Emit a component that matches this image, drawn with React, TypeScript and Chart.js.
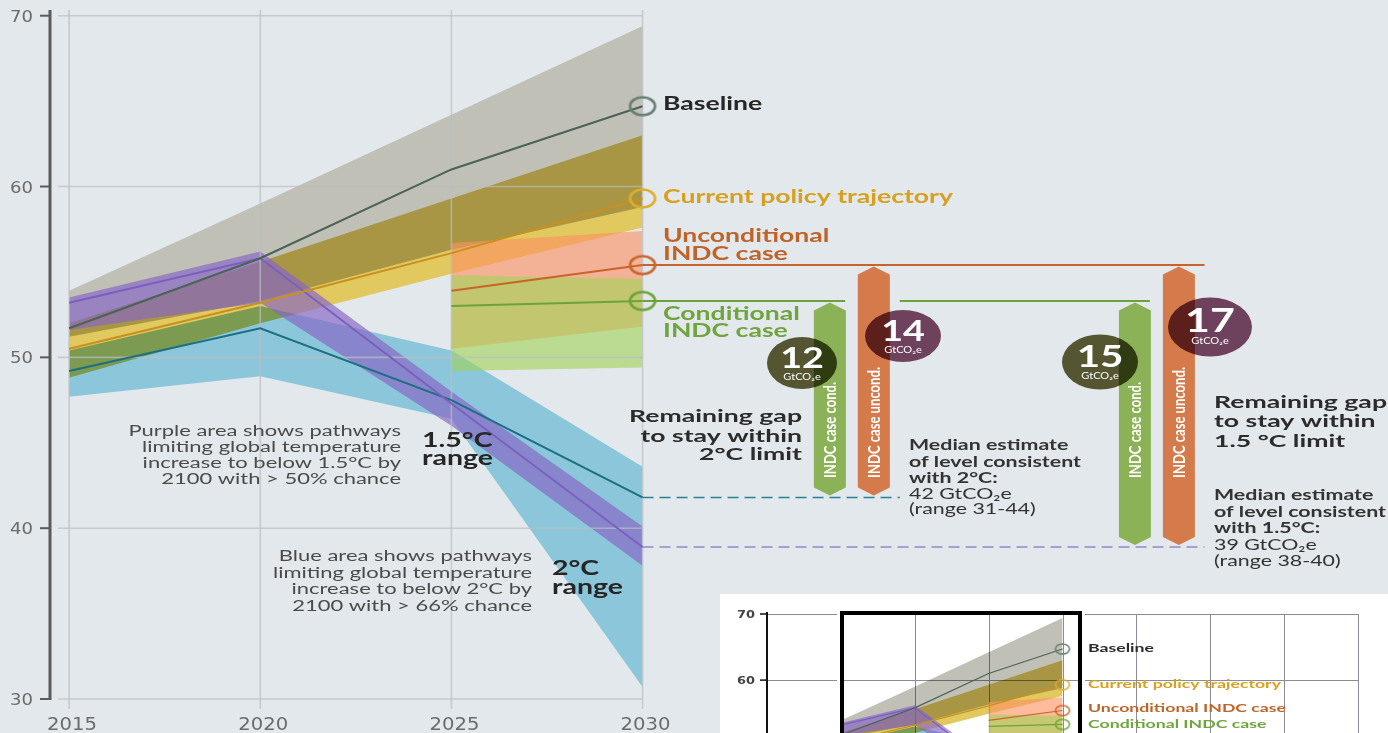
import React, { useEffect, useRef } from 'react';
import { Chart, registerables } from 'chart.js';

// Global plugin (registered first so it runs before the filler): per-dataset blend mode
const blendPlugin = {
  id: 'blendMode',
  beforeDatasetDraw(chart: any, args: any) {
    const ds: any = chart.data.datasets[args.index];
    chart.ctx.globalCompositeOperation = ds && ds.blend ? ds.blend : 'source-over';
  },
  afterDatasetDraw(chart: any) {
    chart.ctx.globalCompositeOperation = 'source-over';
  },
};
Chart.register(blendPlugin);
Chart.register(...registerables);

// ---------------- data ----------------
const years = [2015, 2020, 2025, 2030];
const indcYears = [2025, 2030];
const yTicks = [30, 40, 50, 60, 70];
const xTicks = [2015, 2020, 2025, 2030];
const miniYTicks = [60, 70];
const miniXGrid = [2015, 2020, 2025, 2030, 2035, 2040, 2045, 2050];

const baselineMedian = [51.7, 55.8, 61.0, 64.7];
const baselineLow = [51.2, 53.3, 56.3, 58.8];
const baselineHigh = [53.9, 59.0, 64.2, 69.4];

const currentPolicyMedian = [50.5, 53.2, 56.1, 59.3];
const currentPolicyLow = [48.8, 52.0, 54.9, 57.6];
const currentPolicyHigh = [52.0, 55.6, 59.3, 63.0];

const uncondMedian = [53.9, 55.4];
const uncondLow = [50.5, 51.8];
const uncondHigh = [56.7, 57.4];

const condMedian = [53.0, 53.3];
const condLow = [49.2, 49.4];
const condHigh = [54.8, 54.6];

const twoDegMedian = [49.2, 51.7, 47.5, 41.8];
const twoDegLow = [47.7, 48.9, 46.4, 30.7];
const twoDegHigh = [50.4, 53.0, 50.4, 43.6];

const onePointFiveMedian = [53.2, 55.8, 47.3, 38.9];
const onePointFiveLow = [51.6, 53.2, 46.0, 37.8];
const onePointFiveHigh = [53.5, 56.2, 48.0, 40.1];

const gapValues2C = [12, 14];
const gapValues15 = [15, 17];
const level2CText = '42';
const range2CText = '31-44';
const level15Text = '39';
const range15Text = '38-40';

// ---------------- layout (x extents in axis units) ----------------
const uncondExtYears = [2030, 2044.7];
const condExtYears = [2030, 2035.3, 2036.73, 2043.27];
const dash2CYears = [2030, 2036.73];
const dash15Years = [2030, 2044.7];
const gapBarYears2C = [2034.9, 2036.05];
const gapBarYears15 = [2042.88, 2044.03];

const C = {
  gray: 'rgb(192,192,182)',
  yellow: 'rgb(225,200,95)',
  blue: 'rgb(140,198,218)',
  salmon: 'rgba(253,145,97,0.62)',
  green: 'rgba(160,210,85,0.6)',
  purple: 'rgba(134,102,197,0.67)',
  baseline: '#4a6356',
  baselineMk: '#667d70',
  policy: '#c8901e',
  policyMk: '#dcae2c',
  uncond: '#c8642a',
  cond: '#6aa33a',
  teal: '#1a6f82',
  purpleLine: '#7a5fbf',
  purpleDash: '#9486cc',
  barGreen: 'rgb(140,178,88)',
  barOrange: 'rgb(212,122,75)',
  olive: 'rgb(85,85,50)',
  plum: 'rgb(110,65,92)',
};

const pts = (xs: number[], ys: (number | null)[]) => xs.map((x, i) => ({ x, y: ys[i] }));

function ellipseMarker(color: string, rx: number, ry: number, lw: number) {
  const c = document.createElement('canvas');
  c.width = Math.ceil(rx * 2 + lw + 2);
  c.height = Math.ceil(ry * 2 + lw + 2);
  const g = c.getContext('2d') as CanvasRenderingContext2D;
  g.strokeStyle = color;
  g.lineWidth = lw;
  g.beginPath();
  g.ellipse(c.width / 2, c.height / 2, rx, ry, 0, 0, Math.PI * 2);
  g.stroke();
  return c;
}

function buildDatasets(lw: number, mk: any, withExt: boolean) {
  const list: any[] = [];
  const band = (xs: number[], lo: number[], hi: number[], color: string, blend: string) => {
    list.push({ data: pts(xs, lo), borderColor: 'rgba(0,0,0,0)', borderWidth: 0, pointRadius: 0, fill: false });
    list.push({ data: pts(xs, hi), borderColor: 'rgba(0,0,0,0)', borderWidth: 0, pointRadius: 0, fill: '-1', backgroundColor: color, blend });
  };
  band(years, baselineLow, baselineHigh, C.gray, 'multiply');
  band(years, currentPolicyLow, currentPolicyHigh, C.yellow, 'multiply');
  band(years, twoDegLow, twoDegHigh, C.blue, 'multiply');
  band(indcYears, uncondLow, uncondHigh, C.salmon, 'source-over');
  band(indcYears, condLow, condHigh, C.green, 'source-over');
  band(years, onePointFiveLow, onePointFiveHigh, C.purple, 'source-over');
  const gridAfter = list.length - 1;

  const line = (xs: number[], ys: (number | null)[], color: string, width: number, marker?: any, dash?: number[]) => {
    list.push({
      data: pts(xs, ys),
      borderColor: color,
      borderWidth: width,
      fill: false,
      tension: 0,
      borderDash: dash || [],
      pointRadius: xs.map((_, i) => (marker && i === xs.length - 1 ? 10 : 0)),
      pointStyle: marker || 'circle',
    });
  };
  if (withExt) {
    const u = uncondMedian[uncondMedian.length - 1];
    const c = condMedian[condMedian.length - 1];
    const t = twoDegMedian[twoDegMedian.length - 1];
    const p = onePointFiveMedian[onePointFiveMedian.length - 1];
    line(dash2CYears, [t, t], '#2a7f93', 1.5, null, [11, 6]);
    line(dash15Years, [p, p], C.purpleDash, 1.5, null, [11, 6]);
    line(uncondExtYears, [u, u], C.uncond, 2);
    list.push({
      data: [
        { x: condExtYears[0], y: c },
        { x: condExtYears[1], y: c },
        { x: (condExtYears[1] + condExtYears[2]) / 2, y: null },
        { x: condExtYears[2], y: c },
        { x: condExtYears[3], y: c },
      ],
      borderColor: C.cond, borderWidth: 2, fill: false, pointRadius: 0, spanGaps: false,
    });
  }
  line(years, twoDegMedian, C.teal, lw);
  line(years, onePointFiveMedian, C.purpleLine, lw);
  line(years, baselineMedian, C.baseline, lw, mk.baseline);
  line(years, currentPolicyMedian, C.policy, lw, mk.policy);
  line(indcYears, uncondMedian, C.uncond, lw, mk.uncond);
  line(indcYears, condMedian, C.cond, lw, mk.cond);
  list.forEach((d, i) => (d.order = list.length - i));
  return { datasets: list, gridAfter };
}

function measureSx(ctx: any, font: string, ref: string, width: number) {
  ctx.save();
  ctx.font = font;
  const w = ctx.measureText(ref).width;
  ctx.restore();
  return width / w;
}
function txt(ctx: any, s: string, x: number, y: number, font: string, color: string, align: string, sx: number) {
  ctx.save();
  ctx.font = font;
  ctx.fillStyle = color;
  ctx.textAlign = align;
  ctx.textBaseline = 'alphabetic';
  ctx.translate(x, y);
  ctx.scale(sx, 1);
  ctx.fillText(s, 0, 0);
  ctx.restore();
}

const F_LABEL = 'bold 18px Lato';
const F_GAP = 'bold 17px Lato';
const F_NOTE_B = 'bold 16px Lato';
const F_NOTE = '16px Lato';
const F_RANGE = 'bold 20px Lato';
const F_EXPL = '14.5px Lato';
const F_YTICK = "15px 'DejaVu Sans'";
const F_XTICK = "17px 'DejaVu Sans'";

function mainDecor(gridAfter: number) {
  return {
    id: 'mainDecor',
    afterDatasetDraw(chart: any, args: any) {
      if (args.index !== gridAfter) return;
      const ctx = chart.ctx;
      const sx = chart.scales.x, sy = chart.scales.y;
      ctx.save();
      ctx.strokeStyle = 'rgba(186,189,194,0.7)';
      ctx.lineWidth = 1.6;
      const xEnd = sx.getPixelForValue(xTicks[xTicks.length - 1]);
      yTicks.forEach((v) => {
        const p = sy.getPixelForValue(v);
        ctx.beginPath(); ctx.moveTo(58, p); ctx.lineTo(xEnd, p); ctx.stroke();
      });
      xTicks.forEach((v) => {
        const p = sx.getPixelForValue(v);
        ctx.beginPath(); ctx.moveTo(p, 10); ctx.lineTo(p, 709); ctx.stroke();
      });
      ctx.restore();
    },
    afterDatasetsDraw(chart: any) {
      const ctx = chart.ctx;
      const sx = chart.scales.x, sy = chart.scales.y;
      // axis
      ctx.save();
      ctx.strokeStyle = '#5a5a5a';
      ctx.lineWidth = 3;
      ctx.beginPath(); ctx.moveTo(50, 10); ctx.lineTo(50, 700); ctx.stroke();
      ctx.lineWidth = 2;
      yTicks.forEach((v) => {
        const p = sy.getPixelForValue(v);
        ctx.beginPath(); ctx.moveTo(40, p); ctx.lineTo(50, p); ctx.stroke();
      });
      ctx.restore();
      const syT = measureSx(ctx, F_YTICK, '70', 23);
      yTicks.forEach((v) => txt(ctx, String(v), 33, sy.getPixelForValue(v) + 6, F_YTICK, '#6b6b6b', 'right', syT));
      const sxT = measureSx(ctx, F_XTICK, '2015', 50);
      xTicks.forEach((v) => txt(ctx, String(v), sx.getPixelForValue(v) + 3, 730, F_XTICK, '#6b6b6b', 'center', sxT));

      // gap bars
      const t2 = twoDegMedian[twoDegMedian.length - 1];
      const t15 = onePointFiveMedian[onePointFiveMedian.length - 1];
      const cTop = condMedian[condMedian.length - 1];
      const uTop = uncondMedian[uncondMedian.length - 1];
      const bars = [
        { yr: gapBarYears2C[0], from: t2, to: cTop, color: C.barGreen, label: 'INDC case cond.', len: 96 },
        { yr: gapBarYears2C[1], from: t2, to: uTop, color: C.barOrange, label: 'INDC case uncond.', len: 111 },
        { yr: gapBarYears15[0], from: t15, to: cTop, color: C.barGreen, label: 'INDC case cond.', len: 96 },
        { yr: gapBarYears15[1], from: t15, to: uTop, color: C.barOrange, label: 'INDC case uncond.', len: 111 },
      ];
      bars.forEach((b) => {
        const cx = sx.getPixelForValue(b.yr);
        const yTop = sy.getPixelForValue(b.to) + 1.5;
        const yBot = sy.getPixelForValue(b.from) - 2;
        const h = 16, tip = 8;
        ctx.save();
        ctx.fillStyle = b.color;
        ctx.beginPath();
        ctx.moveTo(cx, yTop); ctx.lineTo(cx + h, yTop + tip); ctx.lineTo(cx + h, yBot - tip);
        ctx.lineTo(cx, yBot); ctx.lineTo(cx - h, yBot - tip); ctx.lineTo(cx - h, yTop + tip);
        ctx.closePath(); ctx.fill();
        ctx.restore();
        // rotated label
        ctx.save();
        ctx.font = 'bold 12px Lato';
        const w = ctx.measureText(b.label).width;
        ctx.fillStyle = '#ffffff';
        ctx.textBaseline = 'middle';
        ctx.textAlign = 'left';
        ctx.translate(cx + 1, 478);
        ctx.rotate(-Math.PI / 2);
        ctx.scale(b.len / w, 1.35);
        ctx.fillText(b.label, 0, 0);
        ctx.restore();
      });

      // badges
      const badges = [
        { x: 802, y: 363, rx: 35, ry: 26, color: C.olive, v: gapValues2C[0] },
        { x: 903, y: 336, rx: 38, ry: 26, color: C.plum, v: gapValues2C[1] },
        { x: 1100, y: 362, rx: 38, ry: 27.5, color: C.olive, v: gapValues15[0] },
        { x: 1210, y: 327, rx: 42, ry: 29.5, color: C.plum, v: gapValues15[1] },
      ];
      badges.forEach((b) => {
        ctx.save();
        ctx.globalCompositeOperation = 'multiply';
        ctx.fillStyle = b.color;
        ctx.beginPath(); ctx.ellipse(b.x, b.y, b.rx, b.ry, 0, 0, Math.PI * 2); ctx.fill();
        ctx.restore();
        const fs = Math.round(29 * b.ry / 26);
        txt(ctx, String(b.v), b.x, b.y + 5, `bold ${fs}px Lato`, '#ffffff', 'center', 1.3);
        txt(ctx, 'GtCO\u2082e', b.x, b.y + 17, '8.5px Lato', '#ffffff', 'center', 1.3);
      });

      // series labels
      const sL = measureSx(ctx, F_LABEL, 'Current policy trajectory', 290);
      txt(ctx, 'Baseline', 663, 110, F_LABEL, '#262626', 'left', sL);
      txt(ctx, 'Current policy trajectory', 663, 203, F_LABEL, '#d7a01e', 'left', sL);
      txt(ctx, 'Unconditional', 663, 242, F_LABEL, '#be6428', 'left', sL);
      txt(ctx, 'INDC case', 663, 260, F_LABEL, '#be6428', 'left', sL);
      txt(ctx, 'Conditional', 663, 320, F_LABEL, '#6ea53c', 'left', sL);
      txt(ctx, 'INDC case', 663, 337, F_LABEL, '#6ea53c', 'left', sL);

      // remaining gap titles
      const sG = measureSx(ctx, F_GAP, 'Remaining gap', 173);
      txt(ctx, 'Remaining gap', 802, 422, F_GAP, '#2b2b2b', 'right', sG);
      txt(ctx, 'to stay within', 802, 442, F_GAP, '#2b2b2b', 'right', sG);
      txt(ctx, '2°C limit', 802, 460, F_GAP, '#2b2b2b', 'right', sG);
      txt(ctx, 'Remaining gap', 1214, 408, F_GAP, '#2b2b2b', 'left', sG);
      txt(ctx, 'to stay within', 1214, 427, F_GAP, '#2b2b2b', 'left', sG);
      txt(ctx, '1.5 °C limit', 1214, 447, F_GAP, '#2b2b2b', 'left', sG);

      // median notes
      const sN = measureSx(ctx, F_NOTE_B, 'of level consistent', 172);
      const notes = (x: number, ys: number[], temp: string, lvl: string, rng: string) => {
        txt(ctx, 'Median estimate', x, ys[0], F_NOTE_B, '#333333', 'left', sN);
        txt(ctx, 'of level consistent', x, ys[1], F_NOTE_B, '#333333', 'left', sN);
        txt(ctx, `with ${temp}:`, x, ys[2], F_NOTE_B, '#333333', 'left', sN);
        txt(ctx, `${lvl} GtCO\u2082e`, x, ys[3], F_NOTE, '#333333', 'left', sN);
        txt(ctx, `(range ${rng})`, x, ys[4], F_NOTE, '#333333', 'left', sN);
      };
      notes(909, [450, 467, 483, 499, 514], '2°C', level2CText, range2CText);
      notes(1214, [500, 517, 533, 550, 566], '1.5°C', level15Text, range15Text);

      // range labels
      const sR = measureSx(ctx, F_RANGE, 'range', 71);
      txt(ctx, '1.5°C', 422, 447, F_RANGE, '#262626', 'left', sR);
      txt(ctx, 'range', 422, 465, F_RANGE, '#262626', 'left', sR);
      txt(ctx, '2°C', 552, 575, F_RANGE, '#262626', 'left', sR);
      txt(ctx, 'range', 552, 594, F_RANGE, '#262626', 'left', sR);

      // explanatory notes
      const sE = measureSx(ctx, F_EXPL, 'limiting global temperature', 259);
      const ex1 = ['Purple area shows pathways', 'limiting global temperature', 'increase to below 1.5°C by', '2100 with > 50% chance'];
      const ex2 = ['Blue area shows pathways', 'limiting global temperature', 'increase to below 2°C by', '2100 with > 66% chance'];
      [436, 452, 468, 484].forEach((y, i) => txt(ctx, ex1[i], 401, y, F_EXPL, '#4a4a4a', 'right', sE));
      [561, 578, 594, 611].forEach((y, i) => txt(ctx, ex2[i], 532, y, F_EXPL, '#4a4a4a', 'right', sE));
    },
  };
}

const miniDecor = {
  id: 'miniDecor',
  beforeDatasetsDraw(chart: any) {
    const ctx = chart.ctx;
    const sx = chart.scales.x, sy = chart.scales.y;
    const a = chart.chartArea;
    ctx.save();
    ctx.strokeStyle = '#8c8c96';
    ctx.lineWidth = 1;
    miniYTicks.forEach((v) => {
      const p = Math.round(sy.getPixelForValue(v)) + 0.5;
      ctx.beginPath(); ctx.moveTo(a.left, p); ctx.lineTo(sx.getPixelForValue(2050), p); ctx.stroke();
    });
    miniXGrid.forEach((v) => {
      const p = Math.round(sx.getPixelForValue(v)) + 0.5;
      ctx.beginPath(); ctx.moveTo(p, sy.getPixelForValue(70)); ctx.lineTo(p, a.bottom); ctx.stroke();
    });
    ctx.restore();
  },
  afterDatasetsDraw(chart: any) {
    const ctx = chart.ctx;
    const sy = chart.scales.y;
    const a = chart.chartArea;
    ctx.save();
    ctx.strokeStyle = '#111';
    ctx.lineWidth = 2;
    ctx.beginPath(); ctx.moveTo(a.left, 18); ctx.lineTo(a.left, a.bottom); ctx.stroke();
    ctx.lineWidth = 1.5;
    miniYTicks.forEach((v) => {
      const p = sy.getPixelForValue(v);
      ctx.beginPath(); ctx.moveTo(a.left - 7, p); ctx.lineTo(a.left, p); ctx.stroke();
    });
    ctx.restore();
    const st = measureSx(ctx, "bold 11px 'DejaVu Sans'", '70', 18);
    miniYTicks.forEach((v) => txt(ctx, String(v), 35, sy.getPixelForValue(v) + 4, "bold 11px 'DejaVu Sans'", '#444', 'right', st));
    const F = 'bold 12px Lato';
    const s = measureSx(ctx, F, 'Current policy trajectory', 193);
    txt(ctx, 'Baseline', 368, 58, F, '#2b2b2b', 'left', s);
    txt(ctx, 'Current policy trajectory', 368, 94, F, '#d7a01e', 'left', s);
    txt(ctx, 'Unconditional INDC case', 368, 118, F, '#be6428', 'left', s);
    txt(ctx, 'Conditional INDC case', 368, 134, F, '#6ea53c', 'left', s);
  },
};

export default function App() {
  const mainRef = useRef<HTMLCanvasElement>(null);
  const miniRef = useRef<HTMLCanvasElement>(null);

  useEffect(() => {
    const mkMain = {
      baseline: ellipseMarker(C.baselineMk, 12.5, 9, 2.5),
      policy: ellipseMarker(C.policyMk, 12.5, 9, 2.5),
      uncond: ellipseMarker(C.uncond, 12.5, 9, 2.5),
      cond: ellipseMarker(C.cond, 12.5, 9, 2.5),
    };
    const mkMini = {
      baseline: ellipseMarker(C.baselineMk, 7, 5, 1.5),
      policy: ellipseMarker(C.policyMk, 7, 5, 1.5),
      uncond: ellipseMarker(C.uncond, 7, 5, 1.5),
      cond: ellipseMarker(C.cond, 7, 5, 1.5),
    };
    const m = buildDatasets(2, mkMain, true);
    const main = new Chart(mainRef.current as HTMLCanvasElement, {
      type: 'line',
      data: { datasets: m.datasets },
      options: {
        responsive: false,
        animation: false,
        events: [],
        layout: { autoPadding: false, padding: { left: 50, right: 0, top: 15.7, bottom: 34 } },
        scales: {
          x: { type: 'linear', min: 2014.5, max: 2049.5, display: false },
          y: { type: 'linear', min: 30, max: 70, display: false },
        },
        plugins: { legend: { display: false }, tooltip: { enabled: false }, colors: { enabled: false } },
      } as any,
      plugins: [mainDecor(m.gridAfter)],
    });
    const n = buildDatasets(1.2, mkMini, false);
    const mini = new Chart(miniRef.current as HTMLCanvasElement, {
      type: 'line',
      data: { datasets: n.datasets },
      options: {
        responsive: false,
        animation: false,
        events: [],
        layout: { autoPadding: false, padding: { left: 47, right: 30, top: 20, bottom: 0 } },
        scales: {
          x: { type: 'linear', min: 2010, max: 2050, display: false },
          y: { type: 'linear', min: 52, max: 70, display: false },
        },
        plugins: { legend: { display: false }, tooltip: { enabled: false }, colors: { enabled: false } },
      } as any,
      plugins: [miniDecor],
    });
    return () => {
      main.destroy();
      mini.destroy();
    };
  }, []);

  return (
    <div style={{ position: 'fixed', left: 0, top: 0, width: 1388, height: 733, background: '#e3e8ec', overflow: 'hidden' }}>
      <canvas ref={mainRef} width={1388} height={733} style={{ position: 'absolute', left: 0, top: 0 }} />
      <div style={{ position: 'absolute', left: 720, top: 594, width: 668, height: 139, background: '#ffffff' }} />
      <canvas ref={miniRef} width={668} height={139} style={{ position: 'absolute', left: 720, top: 594 }} />
      <div style={{ position: 'absolute', left: 840, top: 611, width: 234, height: 150, border: '4px solid #000', outline: '3px solid #fff' }} />
    </div>
  );
}
